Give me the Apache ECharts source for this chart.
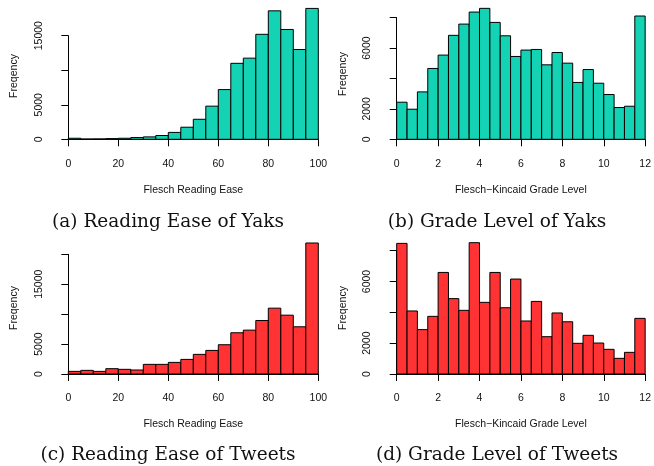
<!DOCTYPE html>
<html>
<head>
<meta charset="utf-8">
<script src="https://cdn.jsdelivr.net/npm/echarts@6/dist/echarts.min.js"></script>
<style>html,body{margin:0;padding:0;background:#fff}#c{width:654px;height:466px}</style>
</head>
<body>
<div id="c"></div>
<script>
// Bin starts
var readingBins = [0,5,10,15,20,25,30,35,40,45,50,55,60,65,70,75,80,85,90,95];
var readingBinWidth = 5;
var gradeBins = [0,0.5,1,1.5,2,2.5,3,3.5,4,4.5,5,5.5,6,6.5,7,7.5,8,8.5,9,9.5,10,10.5,11,11.5];
var gradeBinWidth = 0.5;

// Frequencies
var yakReading = [150,50,60,100,150,250,350,550,1000,1750,2900,4800,7200,11000,11750,15200,18600,15900,13000,18950];
var yakGrade = [2440,1980,3120,4660,5540,6840,7580,8370,8615,7690,6810,5450,5870,5910,4900,5710,5010,3740,4590,3690,2945,2090,2175,8110];
var tweetReading = [440,610,440,890,780,670,1610,1610,1940,2440,3280,3940,4890,6890,7330,8940,11000,9830,7890,21890];
var tweetGrade = [8475,4090,2880,3740,6590,4890,4130,8520,4650,6590,4300,6160,3440,4710,2420,3960,3390,1990,2510,2010,1600,1016,1405,3610];

// Tick labels
var readingXTicks = [0,20,40,60,80,100];
var gradeXTicks = [0,2,4,6,8,10,12];
var yTicksA = [0,5000,10000,15000];      var yLabelsA = ['0','5000','','15000'];
var yTicksB = [0,2000,4000,6000,8000];   var yLabelsB = ['0','2000','','6000',''];
var yTicksC = [0,5000,10000,15000,20000];var yLabelsC = ['0','5000','','15000',''];
var yTicksD = [0,2000,4000,6000,8000];   var yLabelsD = ['0','2000','','6000',''];

var xTitleReading = 'Flesch Reading Ease';
var xTitleGrade = 'Flesch\u2212Kincaid Grade Level';
var yTitle = 'Freqency';
var captions = ['(a) Reading Ease of Yaks','(b) Grade Level of Yaks','(c) Reading Ease of Tweets','(d) Grade Level of Tweets'];

var TEAL = '#14D2B4', RED = '#FF3333';
var FONT = 'Liberation Sans, Arial, Helvetica, sans-serif';
var FS = 10.5;

function binData(starts, width, vals){
  return starts.map(function(s,i){ return [s, s+width, vals[i]]; });
}
function xAxis(idx, ticks, name){
  return {type:'value', gridIndex:idx, min:ticks[0], max:ticks[ticks.length-1], interval:ticks[1]-ticks[0], offset:5,
    name:name, nameLocation:'middle', nameGap:40,
    nameTextStyle:{fontFamily:FONT, fontSize:FS, color:'#111'},
    axisLine:{show:true, lineStyle:{color:'#000', width:1}},
    axisTick:{show:true, length:7, lineStyle:{color:'#000'}},
    axisLabel:{fontFamily:FONT, fontSize:FS, color:'#111', margin:14, showMinLabel:true, showMaxLabel:true},
    splitLine:{show:false}};
}
function yAxis(idx, ticks, labels){
  return {type:'value', gridIndex:idx, min:ticks[0], max:ticks[ticks.length-1],
    interval:ticks[1]-ticks[0], offset:10,
    axisLine:{show:true, lineStyle:{color:'#000', width:1}},
    axisTick:{show:true, length:7, lineStyle:{color:'#000'}},
    axisLabel:{fontFamily:FONT, fontSize:FS, color:'#111', margin:14, rotate:90,
      formatter:function(v){ var i = ticks.indexOf(v); return i>=0 ? labels[i] : ''; }},
    splitLine:{show:false}};
}
function hist(idx, data, color){
  return {type:'custom', xAxisIndex:idx, yAxisIndex:idx, clip:false,
    encode:{x:[0,1], y:2},
    data:data,
    renderItem:function(params, api){
      var p0 = api.coord([api.value(0), api.value(2)]);
      var p1 = api.coord([api.value(1), 0]);
      return {type:'rect', shape:{x:p0[0], y:p0[1], width:p1[0]-p0[0], height:p1[1]-p0[1]},
        style:{fill:color, stroke:'#000', lineWidth:1}};
    }};
}
function vtext(x, y, t){
  return {type:'text', x:x, y:y, rotation:Math.PI/2,
    style:{text:t, fontFamily:FONT, fontSize:FS, fill:'#111', align:'center', verticalAlign:'middle'}};
}
function caption(x, y, t){
  return {type:'text', x:x, y:y,
    style:{text:t, fontFamily:'DejaVu Serif, serif', fontSize:18.5, fill:'#111', align:'center', verticalAlign:'middle'}};
}

var chart = echarts.init(document.getElementById('c'), null, {renderer:'canvas'});
chart.setOption({
  animation:false,
  backgroundColor:'#fff',
  grid:[
    {left:68.3, right:335.7, top:35.7, bottom:326.7},
    {left:396.7, right:8, top:17.7, bottom:326.7},
    {left:68.3, right:335.7, top:254.3, bottom:92},
    {left:396.7, right:8, top:250.7, bottom:92}
  ],
  xAxis:[
    xAxis(0, readingXTicks, xTitleReading),
    xAxis(1, gradeXTicks, xTitleGrade),
    xAxis(2, readingXTicks, xTitleReading),
    xAxis(3, gradeXTicks, xTitleGrade)
  ],
  yAxis:[
    yAxis(0, yTicksA, yLabelsA),
    yAxis(1, yTicksB, yLabelsB),
    yAxis(2, yTicksC, yLabelsC),
    yAxis(3, yTicksD, yLabelsD)
  ],
  series:[
    hist(0, binData(readingBins, readingBinWidth, yakReading), TEAL),
    hist(1, binData(gradeBins, gradeBinWidth, yakGrade), TEAL),
    hist(2, binData(readingBins, readingBinWidth, tweetReading), RED),
    hist(3, binData(gradeBins, gradeBinWidth, tweetGrade), RED)
  ],
  graphic:[
    vtext(14, 76, yTitle),
    vtext(343, 74, yTitle),
    vtext(14, 308, yTitle),
    vtext(343, 308, yTitle),
    caption(168, 222, captions[0]),
    caption(497, 222, captions[1]),
    caption(168, 455, captions[2]),
    caption(497, 455, captions[3])
  ]
});
</script>
</body>
</html>
